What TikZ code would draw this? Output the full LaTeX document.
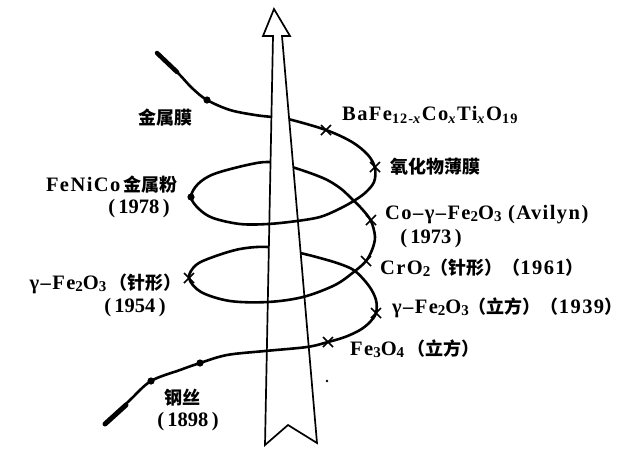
\documentclass[tikz,border=0pt]{standalone}
\usepackage{fontspec}
\setmainfont{Liberation Serif}
\newfontfamily\latw{Liberation Serif}[LetterSpace=7]
\newfontfamily\cjk{Noto Sans CJK SC}
\usetikzlibrary{calc}
\newcommand{\zh}[1]{{\cjk\bfseries\fontsize{18}{22}\selectfont #1}}
\newcommand{\sub}[1]{\raisebox{-0.22ex}{\fontsize{15}{16}\selectfont #1}}

\begin{document}
\begin{tikzpicture}[x=1pt,y=-1pt,
    wire/.style={line width=2.6pt,line cap=round,line join=round},
    lbl/.style={inner sep=0pt,font=\latw\bfseries\fontsize{20.5}{22}\selectfont},
    yr/.style={inner sep=0pt,font=\bfseries\fontsize{20.5}{22}\selectfont},
    xm/.pic={\draw[line width=1.6pt] (-5,-5) -- (5,5) (-5,5) -- (5,-5);}]
  \useasboundingbox (0,0) rectangle (624,448);
  % the helix, one smooth run of points, top left to bottom left
  \def\helix{plot[smooth,tension=0.55] coordinates {
    (157,53) (178,73) (192,88) (207,100) (230,110) (255,115) (272,117)
    (288,119) (326,130) (352,142) (368,155) (375,168) (374,182) (365,193)
    (352,202) (337,210) (320,217) (297,221) (268,224) (240,224) (213,218)
    (199,209) (191,197) (198,184) (214,174) (247,165) (269,162) (292,167)
    (323,178) (340,188) (352,199) (362,209) (371,221) (375,237) (372,250)
    (366,261) (355,271) (335,285) (303,297) (268,302) (230,301) (201,292)
    (189,278) (196,265) (213,257) (240,249) (268,247) (300,253) (320,258)
    (340,264) (355,271) (369,286) (376,300) (376,313) (370,322) (360,330)
    (345,337) (328,342) (307,347) (265,351) (227,355) (200,363) (180,370)
    (151,381) (130,400) (105,424)}}
  \draw[wire] \helix;
  % thick ends of the wire
  \draw[line width=4.5pt,line cap=round] (157,53) -- (177,72);
  \draw[line width=5pt,line cap=round] (105,424) -- (126,405);
  % the big arrow, white, over the parts of the helix behind it
  \coordinate (tip) at (274,9);
  \coordinate (rw) at (290,36);  \coordinate (lw) at (263,36);
  \coordinate (rs) at (282,36);  \coordinate (ls) at (273,36);
  \coordinate (rb) at (317,443); \coordinate (lb) at (265,445);
  \coordinate (notch) at (288,425);
  \draw[line width=1.7pt,line join=miter,fill=white]
    (tip) -- (rw) -- (rs) -- (rb) -- (notch) -- (lb) -- (ls) -- (lw) -- cycle;
  % parts of the helix that pass in front of the arrow
  \begin{scope}
    \clip (tip) -- (rw) -- (rs) -- (rb) -- (notch) -- (lb) -- (ls) -- (lw) -- cycle;
    \clip (240,212) rectangle (330,236) (240,290) rectangle (330,313)
          (240,338) rectangle (330,361);
    \draw[wire] \helix;
  \end{scope}
  % dots and crosses on the wire
  \foreach \p in {(207,100),(191,197),(200,363),(151,381)}
    \fill \p circle (3.6);
  \foreach \p in {(326,130),(375,167),(371,220),(366,261),(189,278),(376,313),(328,342)}
    \pic at \p {xm};
  \fill (327,381) circle (1.3);
  % labels
  \node[lbl] (jsm) at (165,118) {\zh{金属膜}};
  \node[lbl,anchor=west] (bafe) at (342,115)
    {BaFe\textsubscript{12-\textit{x}}Co\textsubscript{\textit{x}}Ti\textsubscript{\textit{x}}O\textsubscript{19}};
  \node[lbl,anchor=west] (yhw) at (390,167) {\zh{氧化物薄膜}};
  \node[lbl,anchor=west] (cogf) at (385,215) {Co–γ–Fe\sub{2}O\sub{3} (Avilyn)};
  \node[yr] (y1973) at (431,239) {(\,1973\,)};
  \node[lbl,anchor=west] (cro) at (380,268) {CrO\sub{2}\zh{（针形）（}1961\zh{）}};
  \node[lbl,anchor=west] (gfl) at (392,308) {γ–Fe\sub{2}O\sub{3}\zh{（立方）（}1939\zh{）}};
  \node[lbl,anchor=west] (feo) at (350,349) {Fe\sub{3}O\sub{4}\,\zh{（立方）}};
  \node[lbl,anchor=east] (fnc) at (178,185) {FeNiCo\,\zh{金属粉}};
  \node[yr] (y1978) at (139,209) {(\,1978\,)};
  \node[lbl,anchor=east] (gfz) at (182,284) {γ–Fe\sub{2}O\sub{3}\,\zh{（针形）}};
  \node[yr] (y1954) at (135,308) {(\,1954\,)};
  \node[lbl] (gs) at (182,398) {\zh{钢丝}};
  \node[yr] (y1898) at (188,422) {(\,1898\,)};
\end{tikzpicture}
\end{document}
